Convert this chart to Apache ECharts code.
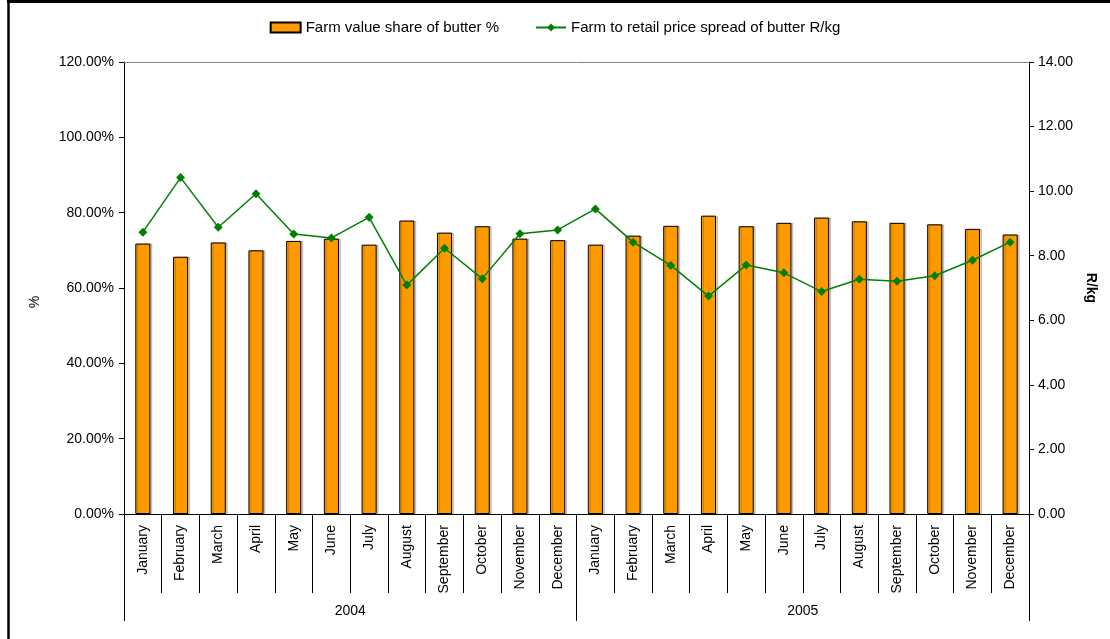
<!DOCTYPE html>
<html>
<head>
<meta charset="utf-8">
<script src="https://cdn.jsdelivr.net/npm/echarts@6/dist/echarts.min.js"></script>
<style>
  html, body { margin: 0; padding: 0; background: #fff; }
  #chart { width: 1110px; height: 639px; }
</style>
</head>
<body>
<div id="chart"></div>
<script>
// Month and year labels for the two-level category axis
const months = ['January','February','March','April','May','June','July','August','September','October','November','December',
                'January','February','March','April','May','June','July','August','September','October','November','December'];
const years = ['2004', '2005'];

// Farm value share of butter (%)
const farmValueShare = [71.8, 68.3, 72.1, 70.0, 72.5, 73.1, 71.5, 77.9, 74.7, 76.4, 73.1, 72.7,
                        71.5, 73.9, 76.5, 79.2, 76.4, 77.3, 78.7, 77.7, 77.3, 76.9, 75.7, 74.2];

// Farm to retail price spread of butter (R/kg)
const priceSpread = [8.73, 10.42, 8.88, 9.92, 8.67, 8.55, 9.19, 7.09, 8.23, 7.29, 8.68, 8.80,
                     9.45, 8.42, 7.70, 6.75, 7.71, 7.47, 6.89, 7.27, 7.21, 7.38, 7.86, 8.42];

const FONT = '"Liberation Sans", Arial, sans-serif';
const txt = { fontFamily: FONT, fontSize: 14, color: '#000' };

const chart = echarts.init(document.getElementById('chart'));

chart.setOption({
  animation: false,
  backgroundColor: '#fff',
  textStyle: { fontFamily: FONT },
  graphic: [
    { type: 'line', shape: { x1: 8.5, y1: 0, x2: 8.5, y2: 639 }, style: { stroke: '#000', lineWidth: 2.5 } },
    { type: 'line', shape: { x1: 7, y1: 1.5, x2: 1110, y2: 1.5 }, style: { stroke: '#000', lineWidth: 3 } }
  ],
  legend: {
    top: 15,
    left: 'center',
    itemWidth: 30,
    itemHeight: 10,
    itemGap: 36,
    textStyle: { fontFamily: FONT, fontSize: 15, color: '#000' },
    data: [
      { name: 'Farm value share of butter %', icon: 'rect' },
      { name: 'Farm to retail price spread of butter R/kg' }
    ]
  },
  grid: { left: 124, right: 81, top: 62, bottom: 125, containLabel: false },
  xAxis: [
    {
      type: 'category',
      data: months,
      position: 'bottom',
      boundaryGap: true,
      axisLine: { show: true, lineStyle: { color: '#000', width: 1 } },
      axisTick: { show: true, interval: 0, length: 79, lineStyle: { color: '#000', width: 1 } },
      axisLabel: Object.assign({ rotate: 90, interval: 0, margin: 11 }, txt),
      splitLine: { show: false }
    },
    {
      type: 'category',
      data: years,
      position: 'bottom',
      boundaryGap: true,
      axisLine: { show: false },
      axisTick: { show: true, interval: 0, length: 107, lineStyle: { color: '#000', width: 1 } },
      axisLabel: Object.assign({ interval: 0, margin: 90 }, txt),
      splitLine: { show: false }
    },
    {
      type: 'category',
      data: months,
      position: 'top',
      axisLine: { show: true, lineStyle: { color: '#808080', width: 1 } },
      axisTick: { show: false },
      axisLabel: { show: false },
      splitLine: { show: false }
    }
  ],
  yAxis: [
    {
      type: 'value',
      min: 0,
      max: 120,
      interval: 20,
      position: 'left',
      name: '%',
      nameLocation: 'middle',
      nameGap: 82,
      nameTextStyle: { fontFamily: FONT, fontSize: 14, color: '#000', padding: [0, 28, 0, 0] },
      axisLine: { show: true, lineStyle: { color: '#000', width: 1 } },
      axisTick: { show: true, length: 5, lineStyle: { color: '#000' } },
      axisLabel: Object.assign({ margin: 10, formatter: v => v.toFixed(2) + '%' }, txt),
      splitLine: { show: false }
    },
    {
      type: 'value',
      min: 0,
      max: 14,
      interval: 2,
      position: 'right',
      name: 'R/kg',
      nameLocation: 'middle',
      nameRotate: -90,
      nameGap: 52,
      nameTextStyle: { fontFamily: FONT, fontSize: 14, fontWeight: 'bold', color: '#000' },
      axisLine: { show: true, lineStyle: { color: '#000', width: 1 } },
      axisTick: { show: true, length: 5, lineStyle: { color: '#000' } },
      axisLabel: Object.assign({ margin: 9, formatter: v => v.toFixed(2) }, txt),
      splitLine: { show: false }
    }
  ],
  series: [
    {
      name: 'Farm value share of butter %',
      type: 'bar',
      xAxisIndex: 0,
      yAxisIndex: 0,
      data: farmValueShare,
      barWidth: '40%',
      itemStyle: {
        color: '#FF9900',
        borderColor: '#000',
        borderWidth: 1,
        shadowColor: 'rgba(0,0,0,0.18)',
        shadowOffsetX: 2,
        shadowOffsetY: 0,
        shadowBlur: 0
      }
    },
    {
      name: 'Farm to retail price spread of butter R/kg',
      type: 'line',
      xAxisIndex: 0,
      yAxisIndex: 1,
      data: priceSpread,
      symbol: 'diamond',
      symbolSize: 9,
      lineStyle: { color: '#008000', width: 1.5 },
      itemStyle: { color: '#008000' },
      z: 3
    }
  ]
});
</script>
</body>
</html>
